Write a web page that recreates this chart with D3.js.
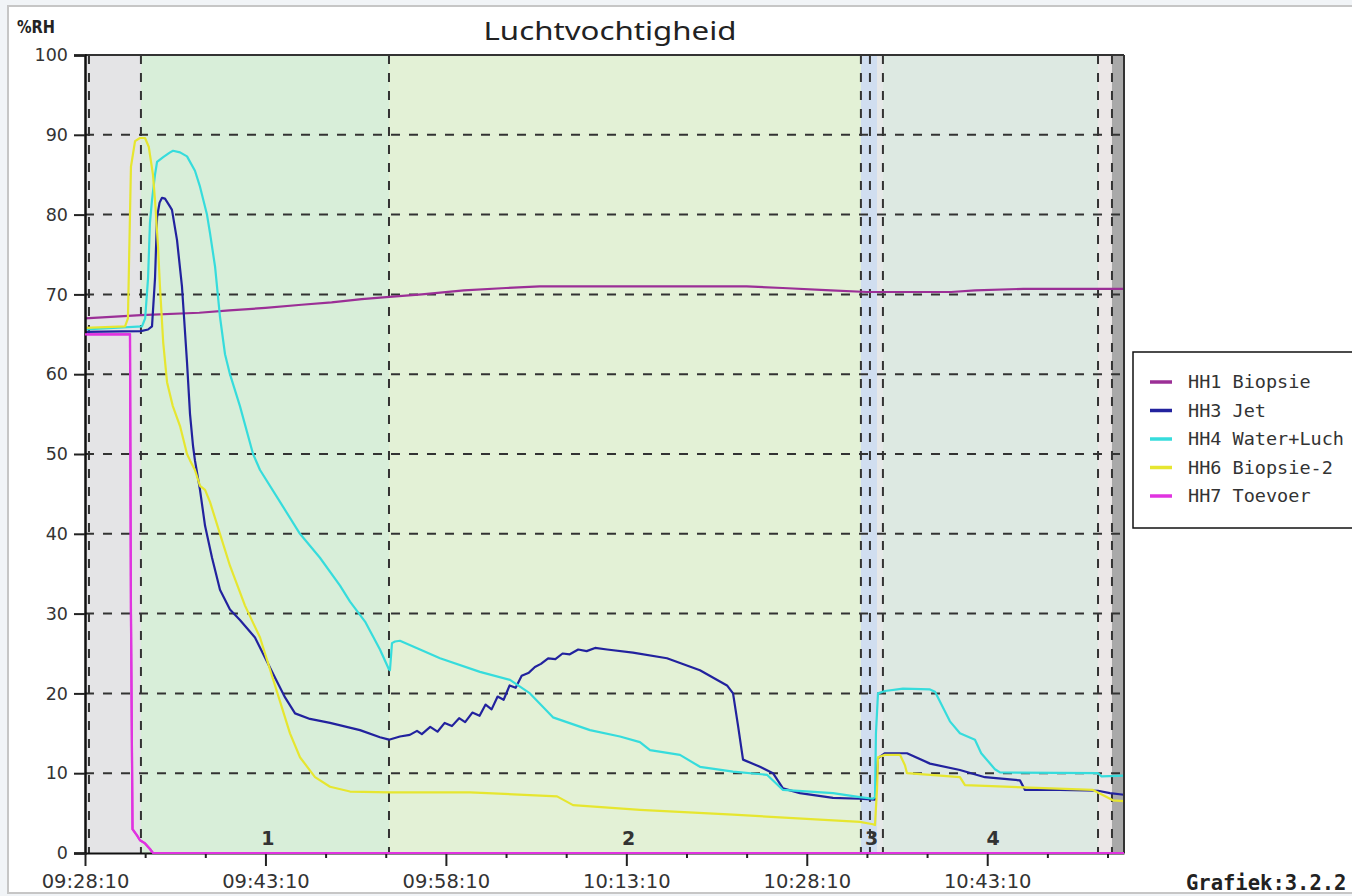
<!DOCTYPE html>
<html>
<head>
<meta charset="utf-8">
<script src="https://cdn.jsdelivr.net/npm/d3@7/dist/d3.min.js"></script>
<style>
html,body{margin:0;padding:0;background:#f1f4f7;}
svg{display:block;}
</style>
</head>
<body>
<svg id="chart" width="1352" height="896"></svg>
<script>
// ---------------- DATA ----------------
const titleText = "Luchtvochtigheid";
const yUnit = "%RH";
const footerText = "Grafiek:3.2.2";

// x in minutes after 09:28:10
const xTickMinutes = [0, 15, 30, 45, 60, 75];
const xTickLabels = ["09:28:10", "09:43:10", "09:58:10", "10:13:10", "10:28:10", "10:43:10"];
const xMinorMinutes = [5, 10, 20, 25, 35, 40, 50, 55, 65, 70, 80, 85];
const yTicks = [0, 10, 20, 30, 40, 50, 60, 70, 80, 90, 100];

const phaseLines = [0.33, 4.65, 25.27, 64.5, 65.25, 66.33, 84.21, 85.37];
const shadeStart = [0, 4.65, 25.27, 64.5, 65.84, 66.33, 84.21, 85.37];
const shadeEnd   = [4.65, 25.27, 64.5, 65.84, 66.33, 84.21, 85.37, 86.37];
const shadeColor = ["#e4e4e6", "#d8eed9", "#e3f1d6", "#d0def0", "#e6e8e8", "#dde9e2", "#ebe7e7", "#a9a9a9"];
const phaseLabels = ["1", "2", "3", "4"];
const phaseLabelMin = [15.2, 45.2, 65.4, 75.5];

const seriesNames = ["HH1 Biopsie", "HH3 Jet", "HH4 Water+Luch", "HH6 Biopsie-2", "HH7 Toevoer"];
const seriesColors = ["#9b2f96", "#22229e", "#36dcdc", "#e6e630", "#e033e0"];

const hh1 = [[0,67.0],[4.65,67.4],[9.5,67.7],[12,68.0],[15,68.3],[18,68.7],[20.5,69.0],[23,69.4],[25.3,69.7],[28,70.0],[31.5,70.5],[35,70.8],[37.8,71.0],[55,71.0],[58,70.8],[62,70.5],[65,70.3],[72,70.3],[74,70.5],[78,70.7],[86.37,70.7]];

const hh3 = [[0,65.3],[4.65,65.4],[5.24,65.6],[5.57,66],[5.82,72],[5.99,79.7],[6.2,81.5],[6.4,82.1],[6.65,82.0],[7.07,81],[7.23,80.6],[7.65,76.8],[8.06,71],[8.23,67.2],[8.48,61.5],[8.73,55],[8.98,51],[9.14,49.2],[9.56,45.5],[9.98,41],[10.56,37],[11.22,33],[12.05,30.5],[12.88,29.2],[14.13,27],[14.96,24.5],[15.79,22],[16.63,19.5],[17.46,17.5],[18.7,16.8],[20.37,16.3],[22.86,15.4],[24.52,14.5],[25.27,14.2],[26.18,14.6],[27.0,14.8],[27.6,15.3],[28.0,14.9],[28.7,15.8],[29.3,15.2],[29.9,16.3],[30.5,15.9],[31.1,16.9],[31.6,16.4],[32.2,17.6],[32.8,17.2],[33.3,18.6],[33.8,18.0],[34.3,19.6],[34.8,19.2],[35.3,21.0],[35.8,20.7],[36.3,22.2],[36.9,22.6],[37.4,23.3],[37.9,23.7],[38.5,24.4],[39.1,24.3],[39.7,25.0],[40.3,24.9],[41.0,25.5],[41.7,25.3],[42.4,25.7],[43.4,25.5],[45.55,25.1],[48.38,24.4],[51.12,22.9],[53.37,21],[53.87,20],[54.3,15.8],[54.7,11.7],[56.11,10.8],[57.19,10],[58.02,8.1],[59.43,7.5],[62.18,6.9],[64.42,6.8],[65.67,6.7],[65.84,10],[65.92,11.9],[66.5,12.5],[68.33,12.5],[70.24,11.2],[72.73,10.4],[74.81,9.5],[77.72,9.1],[78.14,7.9],[81.05,7.9],[84.21,7.8],[85.2,7.5],[86.37,7.3]];

const hh4 = [[0,65.6],[4.74,66],[5.0,67],[5.24,72],[5.4,79],[5.57,81.8],[5.82,85],[5.99,86.6],[6.5,87.2],[7.07,87.8],[7.32,88],[7.9,87.8],[8.48,87.3],[9.14,85.5],[9.56,83.5],[10.14,80],[10.39,77.7],[10.81,73.5],[11.22,67.2],[11.64,62.5],[12.05,60],[12.88,56],[13.97,50],[14.55,48],[16.21,44],[17.87,40],[19.53,37],[21.2,33.5],[22.03,31.5],[23.28,29],[24.52,25.5],[25.27,23],[25.35,22.9],[25.52,26.3],[25.77,26.5],[26.18,26.6],[27.85,25.5],[29.51,24.4],[32.83,22.7],[35.33,21.7],[36.99,20],[38.9,17],[41.98,15.4],[44.47,14.6],[46.13,13.9],[46.97,12.9],[49.46,12.3],[51.12,10.8],[53.87,10.2],[56.69,9.8],[58.02,7.9],[62.18,7.5],[64.42,7.0],[65.5,6.8],[65.67,7],[65.75,15],[65.92,20],[66.5,20.3],[68.0,20.6],[70.24,20.5],[70.66,20.2],[71.9,16.5],[72.73,15],[73.98,14.2],[74.5,12.5],[75.64,10.5],[76.06,10.1],[84.21,10.0],[84.5,9.6],[86.37,9.7]];

const hh6 = [[0,65.8],[3.33,66],[3.57,67],[3.74,80],[3.82,86],[4.16,89.2],[4.57,89.6],[4.99,89.6],[5.3,88.5],[5.65,85],[5.82,81.8],[6.07,76],[6.23,71],[6.5,64],[6.82,59],[7.3,56],[7.9,53.5],[8.48,50],[8.73,49.2],[9.14,48],[9.56,46],[9.98,45.5],[10.39,44],[11.22,40],[12.05,36],[13.3,31],[14.55,27],[15.38,23],[16.21,19],[17.04,15],[17.87,12],[19.12,9.5],[20.37,8.3],[22.03,7.7],[25.35,7.6],[32.0,7.6],[39.24,7.1],[40.57,6.0],[46.13,5.4],[53.87,4.8],[64.42,3.9],[65.5,3.6],[65.67,3.5],[65.84,8],[65.92,12],[66.5,12.3],[67.75,12.3],[68.16,11],[68.33,10],[72.73,9.5],[73.15,8.5],[83.79,7.9],[85.45,6.6],[86.37,6.5]];

const hh7 = [[0,65],[3.74,65],[3.82,30],[3.95,3],[4.32,2.2],[4.57,1.6],[4.99,1.2],[5.40,0.5],[5.65,0],[86.37,0]];

const seriesData = [hh1, hh3, hh4, hh6, hh7];

// ---------------- DRAW ----------------
const svg = d3.select("#chart");
const X0 = 85, X1 = 1124, Y0 = 853, Y1 = 55;
const x = d3.scaleLinear().domain([0, 86.37]).range([X0, X1]);
const y = d3.scaleLinear().domain([0, 100]).range([Y0, Y1]);

// panel frame
svg.append("rect").attr("x", 8).attr("y", 6).attr("width", 1360).attr("height", 887)
  .attr("fill", "#ffffff").attr("stroke", "#c6c6c6").attr("stroke-width", 2);

// shaded phases
svg.append("g").selectAll("rect").data(shadeStart).join("rect")
  .attr("x", (d) => x(d)).attr("y", Y1)
  .attr("width", (d, i) => x(shadeEnd[i]) - x(d)).attr("height", Y0 - Y1)
  .attr("fill", (d, i) => shadeColor[i]);

// horizontal dashed gridlines
svg.append("g").selectAll("line").data(yTicks.filter(v => v > 0 && v < 100)).join("line")
  .attr("x1", X0).attr("x2", X1).attr("y1", d => y(d)).attr("y2", d => y(d))
  .attr("stroke", "#333").attr("stroke-width", 2).attr("stroke-dasharray", "9,9");

// vertical phase lines
svg.append("g").selectAll("line").data(phaseLines).join("line")
  .attr("x1", d => x(d)).attr("x2", d => x(d)).attr("y1", Y1).attr("y2", Y0)
  .attr("stroke", "#333").attr("stroke-width", 2).attr("stroke-dasharray", "9,9");

// phase labels
svg.append("g").selectAll("text").data(phaseLabels).join("text")
  .attr("x", (d, i) => x(phaseLabelMin[i])).attr("y", 845)
  .attr("text-anchor", "middle").attr("font-family", "DejaVu Sans, sans-serif")
  .attr("font-weight", "bold").attr("font-size", 19).attr("fill", "#333")
  .text(d => d);

// series lines
const line = d3.line().x(d => x(d[0])).y(d => y(d[1]));
svg.append("g").attr("fill", "none").selectAll("path").data(seriesData).join("path")
  .attr("d", d => line(d))
  .attr("stroke", (d, i) => seriesColors[i])
  .attr("stroke-width", 2.2).attr("stroke-linejoin", "round");

// borders
svg.append("line").attr("x1", X0).attr("x2", X1).attr("y1", Y1).attr("y2", Y1).attr("stroke", "#333").attr("stroke-width", 2);
svg.append("line").attr("x1", X1).attr("x2", X1).attr("y1", Y1).attr("y2", Y0).attr("stroke", "#333").attr("stroke-width", 2);

// axes
const yAxis = d3.axisLeft(y).tickValues(yTicks).tickSize(11).tickPadding(6);
const gy = svg.append("g").attr("transform", `translate(${X0},0)`).call(yAxis);
gy.select(".domain").attr("stroke", "#111").attr("stroke-width", 2.5);
gy.selectAll(".tick line").attr("stroke", "#222").attr("stroke-width", 2);
gy.selectAll("text").attr("font-family", "DejaVu Sans, sans-serif").attr("font-size", 17.5).attr("fill", "#333");

const xAxis = d3.axisBottom(x).tickValues(xTickMinutes).tickFormat((d, i) => xTickLabels[i]).tickSize(13).tickPadding(8).tickSizeOuter(0);
const gx = svg.append("g").attr("transform", `translate(0,${Y0})`).call(xAxis);
gx.select(".domain").attr("stroke", "#111").attr("stroke-width", 2);
gx.selectAll(".tick line").attr("stroke", "#222").attr("stroke-width", 2);
gx.selectAll("text").attr("font-family", "DejaVu Sans, sans-serif").attr("font-size", 19.5).attr("fill", "#333");

const xMinor = d3.axisBottom(x).tickValues(xMinorMinutes).tickFormat("").tickSize(5).tickSizeOuter(0);
const gxm = svg.append("g").attr("transform", `translate(0,${Y0})`).call(xMinor);
gxm.select(".domain").remove();
gxm.selectAll(".tick line").attr("stroke", "#222").attr("stroke-width", 2);

// HH7 redrawn over x axis baseline
svg.append("path").attr("d", line(hh7)).attr("fill", "none")
  .attr("stroke", seriesColors[4]).attr("stroke-width", 2.2);

// title and unit
svg.append("text").attr("x", 610).attr("y", 40).attr("text-anchor", "middle")
  .attr("font-family", "Noto Sans, DejaVu Sans, sans-serif").attr("font-size", 26)
  .attr("fill", "#222").attr("textLength", 253).attr("lengthAdjust", "spacingAndGlyphs")
  .text(titleText);
svg.append("text").attr("x", 17).attr("y", 33)
  .attr("font-family", "DejaVu Sans, sans-serif").attr("font-weight", "bold").attr("font-size", 17)
  .attr("fill", "#222").attr("textLength", 38).attr("lengthAdjust", "spacingAndGlyphs")
  .text(yUnit);

// legend
const lg = svg.append("g");
lg.append("rect").attr("x", 1133).attr("y", 352).attr("width", 240).attr("height", 176)
  .attr("fill", "#ffffff").attr("stroke", "#111").attr("stroke-width", 1.5);
const rows = lg.selectAll("g.row").data(seriesNames).join("g").attr("class", "row")
  .attr("transform", (d, i) => `translate(0,${382 + i * 28.5})`);
rows.append("line").attr("x1", 1150).attr("x2", 1172).attr("y1", 0).attr("y2", 0)
  .attr("stroke", (d, i) => seriesColors[i]).attr("stroke-width", 3.5);
rows.append("text").attr("x", 1188).attr("y", 6)
  .attr("font-family", "DejaVu Sans Mono, monospace").attr("font-size", 18.5).attr("fill", "#333")
  .text(d => d);

// footer
svg.append("text").attr("x", 1186).attr("y", 890)
  .attr("font-family", "DejaVu Sans Mono, monospace").attr("font-weight", "bold").attr("font-size", 20.5)
  .attr("fill", "#222").text(footerText);
</script>
</body>
</html>
